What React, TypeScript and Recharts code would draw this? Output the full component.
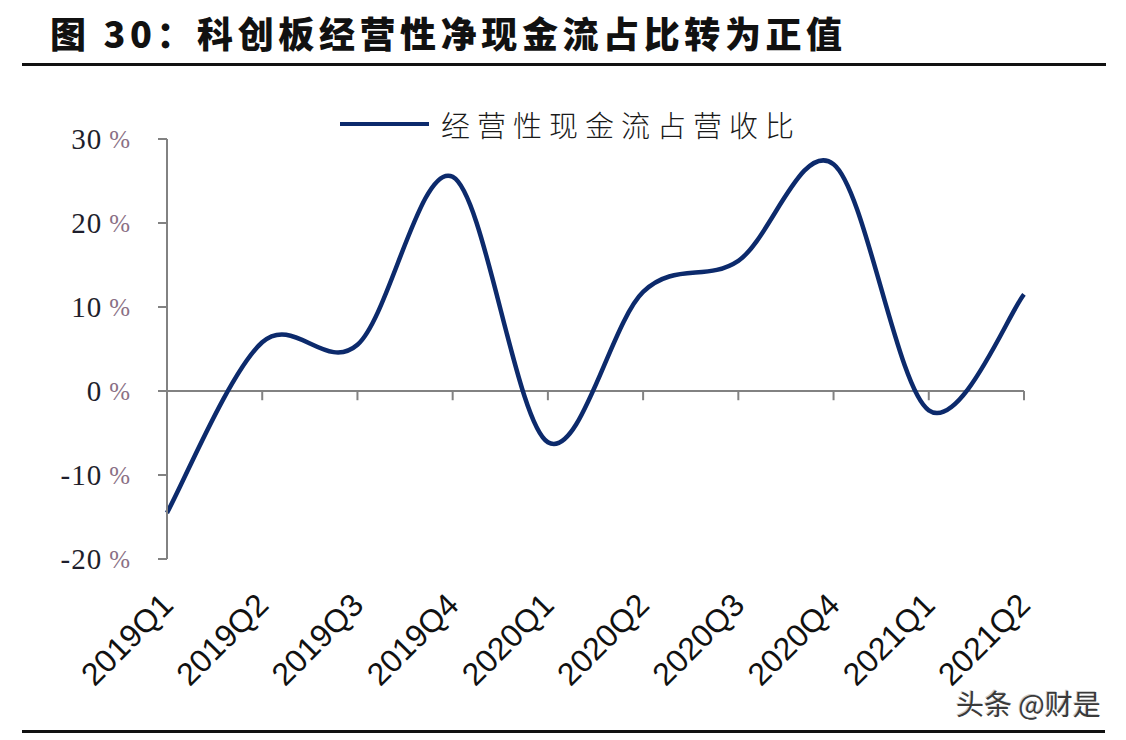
import { LineChart, Line, XAxis, YAxis, ReferenceLine } from 'recharts';

const quarters = ['2019Q1', '2019Q2', '2019Q3', '2019Q4', '2020Q1', '2020Q2', '2020Q3', '2020Q4', '2021Q1', '2021Q2'];
const cashRatio = [-14.5, 5.8, 5.5, 25.5, -6.1, 11.8, 15.5, 27.0, -2.3, 11.5];
const yTicks = [-20, -10, 0, 10, 20, 30];

const seriesName = '经营性现金流占营收比';
const title = '图 30：科创板经营性净现金流占比转为正值';

const data = quarters.map((q, i) => ({ q, v: cashRatio[i] }));

// Excel-like smoothed line (Catmull-Rom through every point)
const smooth = (context: any) => {
  let pts: number[][] = [];
  return {
    areaStart() {},
    areaEnd() {},
    lineStart() {
      pts = [];
    },
    point(x: number, y: number) {
      pts.push([+x, +y]);
    },
    lineEnd() {
      const n = pts.length;
      if (!n) return;
      context.moveTo(pts[0][0], pts[0][1]);
      for (let i = 0; i < n - 1; i++) {
        const p0 = pts[i - 1] || pts[i];
        const p1 = pts[i];
        const p2 = pts[i + 1];
        const p3 = pts[i + 2] || p2;
        context.bezierCurveTo(
          p1[0] + (p2[0] - p0[0]) / 6,
          p1[1] + (p2[1] - p0[1]) / 6,
          p2[0] - (p3[0] - p1[0]) / 6,
          p2[1] - (p3[1] - p1[1]) / 6,
          p2[0],
          p2[1]
        );
      }
    },
  };
};

const YTick = ({ x, y, payload }: any) => (
  <text x={x} y={y} textAnchor="end" dominantBaseline="central" fontFamily="'Liberation Serif', serif" fontSize={29}>
    <tspan fill="#1e1e2c" letterSpacing={1}>{payload.value}</tspan>
    <tspan dx={7} fill="#8a7085" fontSize={25}>%</tspan>
  </text>
);

const XTick = ({ x, y, payload }: any) => (
  <text
    x={x + 8}
    y={y}
    textAnchor="end"
    transform={`rotate(-45, ${x + 8}, ${y})`}
    fontFamily="'Liberation Sans', Arial, sans-serif"
    fontSize={32}
    fill="#111"
  >
    {payload.value}
  </text>
);

export default function App() {
  const axisGray = '#828282';
  return (
    <div style={{ position: 'fixed', left: 0, top: 0, width: 1126, height: 740, background: '#fff', overflow: 'hidden' }}>
      <div
        style={{
          position: 'absolute',
          left: 50,
          top: 6,
          fontFamily: "'Noto Sans CJK SC', sans-serif",
          fontWeight: 900,
          fontSize: 36,
          letterSpacing: 4.6,
          color: '#111',
          whiteSpace: 'nowrap',
        }}
      >
        {title}
      </div>
      <div style={{ position: 'absolute', left: 22, top: 63, width: 1084, height: 3, background: '#111' }} />

      <LineChart width={1126} height={740} data={data} margin={{ top: 139, right: 102, bottom: 0, left: 0 }}>
        <XAxis
          dataKey="q"
          scale="point"
          padding={{ left: 0, right: 0 }}
          axisLine={false}
          tickLine={false}
          tickSize={0}
          tickMargin={48}
          height={181}
          interval={0}
          tick={<XTick />}
        />
        <YAxis
          domain={[-20, 30]}
          ticks={yTicks}
          width={167}
          interval={0}
          axisLine={{ stroke: axisGray, strokeWidth: 2 }}
          tickLine={{ stroke: axisGray, strokeWidth: 2 }}
          tickSize={9}
          tickMargin={28}
          tick={<YTick />}
        />
        <ReferenceLine y={0} stroke={axisGray} strokeWidth={2} />
        {quarters.slice(1).map((q) => (
          <ReferenceLine
            key={q}
            segment={[
              { x: q, y: 0 },
              { x: q, y: -1.1 },
            ]}
            stroke={axisGray}
            strokeWidth={2}
          />
        ))}
        <Line
          dataKey="v"
          type={smooth as any}
          stroke="#0c2a6c"
          strokeWidth={4.5}
          dot={false}
          activeDot={false}
          isAnimationActive={false}
        />
      </LineChart>

      <div style={{ position: 'absolute', left: 340, top: 122, width: 89, height: 4, background: '#0c2a6c' }} />
      <div
        style={{
          position: 'absolute',
          left: 441,
          top: 103,
          fontFamily: "'Noto Sans CJK SC', sans-serif",
          fontWeight: 300,
          fontSize: 29,
          letterSpacing: 7,
          color: '#1a1a1a',
          whiteSpace: 'nowrap',
        }}
      >
        {seriesName}
      </div>

      <div
        style={{
          position: 'absolute',
          left: 956,
          top: 683,
          fontFamily: "'Noto Sans CJK SC', sans-serif",
          fontSize: 28,
          color: '#3a3a3a',
          textShadow: '1px 1px 0 #fff, -1px -1px 0 #ccc',
          whiteSpace: 'nowrap',
        }}
      >
        头条 @财是
      </div>
      <div style={{ position: 'absolute', left: 22, top: 730, width: 1083, height: 3, background: '#111' }} />
    </div>
  );
}
